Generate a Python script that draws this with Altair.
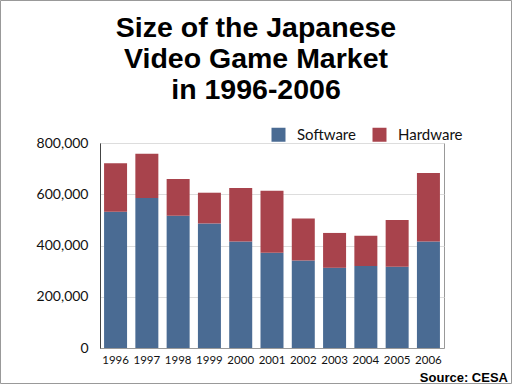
import altair as alt
import pandas as pd

years = ["1996", "1997", "1998", "1999", "2000", "2001", "2002", "2003", "2004", "2005", "2006"]
software = [532000, 585000, 516000, 486000, 416000, 372000, 341000, 313000, 320000, 317000, 416000]
totals = [721000, 758000, 660000, 606000, 624000, 614000, 505000, 449000, 438000, 500000, 683000]
hardware = [t - s for t, s in zip(totals, software)]
series = ["Software", "Hardware"]
colors = ["#4a6b93", "#a8434c"]
y_ticks = [0, 200000, 400000, 600000, 800000]

rows = []
for y, s, h in zip(years, software, hardware):
    rows.append({"year": y, "kind": "Software", "value": s, "ord": 0})
    rows.append({"year": y, "kind": "Hardware", "value": h, "ord": 1})
df = pd.DataFrame(rows)

bars = alt.Chart(df).mark_bar().encode(
    x=alt.X("year:N", sort=years, title=None,
            scale=alt.Scale(paddingInner=0.265, paddingOuter=0.13),
            axis=alt.Axis(labelAngle=0, ticks=False, labelFontSize=11.5, labelFont="Lato",
                          labelColor="#111", labelPadding=6, domainColor="#999", grid=False)),
    y=alt.Y("value:Q", stack="zero", title=None,
            scale=alt.Scale(domain=[0, 800000], nice=False),
            axis=alt.Axis(values=y_ticks, format=",d", ticks=False, labelFontSize=14,
                          labelFont="Lato", labelColor="#111", labelPadding=12,
                          domainColor="#444", gridColor="#dddddd")),
    color=alt.Color("kind:N", scale=alt.Scale(domain=series, range=colors),
                    legend=alt.Legend(title=None, orient="none", legendX=171, legendY=-16,
                                      direction="horizontal", symbolType="square",
                                      symbolSize=196, symbolStrokeWidth=0, symbolOpacity=1,
                                      labelFontSize=15, labelFont="Lato", labelColor="#111",
                                      labelOffset=11, columnPadding=16, padding=0)),
    order=alt.Order("ord:Q"),
)

title = alt.Chart(pd.DataFrame({"t": ["Size of the Japanese\nVideo Game Market\nin 1996-2006"]})).mark_text(
    font="Liberation Sans", fontWeight="bold", fontSize=28.5, lineHeight=31, lineBreak="\n",
    align="center", baseline="alphabetic", color="#000"
).encode(x=alt.value(156), y=alt.value(-106), text="t:N")

source = alt.Chart(pd.DataFrame({"t": ["Source: CESA"]})).mark_text(
    font="Liberation Sans", fontWeight="bold", fontSize=13, align="right",
    baseline="alphabetic", color="#000"
).encode(x=alt.value(408), y=alt.value(239), text="t:N")

border = alt.Chart(pd.DataFrame({"a": [0]})).mark_rect(
    filled=False, stroke="#999999", strokeWidth=1
).encode(x=alt.value(-99.5), x2=alt.value(411.5), y=alt.value(-142.5), y2=alt.value(240.5))

chart = alt.layer(bars, title, source, border).properties(
    width=344, height=205,
    autosize=alt.AutoSizeParams(type="none"),
    padding={"left": 100, "top": 143, "right": 68, "bottom": 36},
    background="white",
).configure_view(stroke="#999999")

chart.save("out.html", embed_options={"renderer": "svg", "actions": False})
